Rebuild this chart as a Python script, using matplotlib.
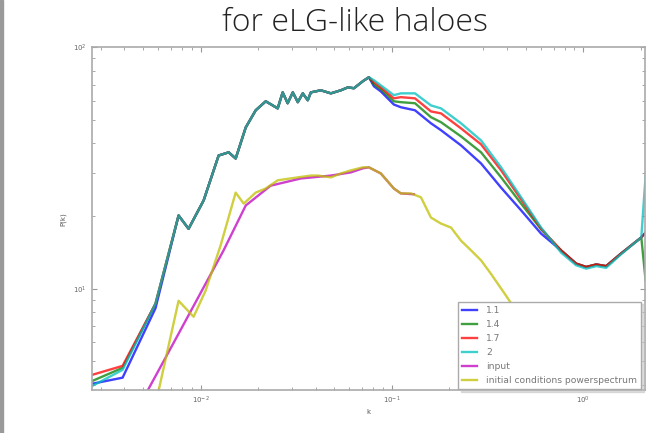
import matplotlib
matplotlib.use("Agg")
import matplotlib.pyplot as plt
from matplotlib.patches import Rectangle

# shared k grid for the four halo runs
k_sim = [0.00272, 0.00391, 0.00581, 0.00767, 0.00865, 0.01037, 0.01242, 0.01402,
         0.01525, 0.01721, 0.01941, 0.02190, 0.02529, 0.02685, 0.02851, 0.03033,
         0.03221, 0.03420, 0.03631, 0.03770, 0.04249, 0.04797, 0.05408, 0.05890,
         0.06330, 0.07050, 0.07580,
         0.0805, 0.0875, 0.1023, 0.1114, 0.1320, 0.1600, 0.1806, 0.2298, 0.2924,
         0.3722, 0.4736, 0.6025, 0.7666, 0.9185, 1.037, 1.170, 1.318, 1.580,
         2.012, 2.12]

common = [8.67, 20.1, 17.7, 23.2, 35.6, 36.7, 34.6, 46.5, 54.8, 59.7, 55.8, 65.0,
          58.6, 65.0, 59.2, 64.4, 60.3, 65.0, 66.3, 64.4, 66.3, 68.2, 67.6, 72.3,
          75.1]
tail = [14.4, 12.7, 12.3, 12.6, 12.4, 14.0, 16.3]

P_11 = [4.04, 4.28, 8.3] + common[1:] + [68.9, 65.6, 57.9, 56.4, 54.8, 48.4, 45.3,
        39.2, 33.0, 26.2, 21.1, 16.9] + tail + [17.1]
P_14 = [4.15, 4.70] + common + [70.2, 67.0, 59.7, 59.2, 58.6, 51.3, 48.9, 42.7,
        36.7, 28.9, 22.5, 17.6] + tail + [10.8]
P_17 = [4.40, 4.79] + common + [71.6, 68.2, 61.4, 62.1, 61.4, 54.2, 53.2, 46.1,
        39.6, 30.9, 23.4, 17.7] + tail + [17.1]
P_2 = [3.96, 4.61] + common + [73.0, 69.5, 63.3, 64.4, 64.4, 57.4, 55.8, 48.4,
       41.1, 31.8, 23.9, 17.9] + [14.1, 12.5, 12.1, 12.4, 12.2, 13.9, 16.3] + [29.4]

# linear input spectrum
k_in = [0.0045, 0.00528, 0.0075, 0.0100, 0.01318, 0.01721, 0.02323, 0.03342,
        0.04797, 0.06096, 0.0705, 0.0758, 0.0875, 0.1023, 0.1114, 0.1303]
P_in = [3.0, 3.78, 6.3, 9.6, 14.4, 22.1, 26.7, 28.6, 29.4, 30.3, 31.5, 31.8,
        30.0, 26.0, 24.8, 24.6]

# initial conditions power spectrum
k_ic = [0.00603, 0.00767, 0.00919, 0.01062, 0.01272, 0.01525, 0.01680, 0.01941,
        0.02190, 0.02529, 0.03221, 0.03770, 0.04100, 0.04800, 0.05410, 0.06100,
        0.07050, 0.07580, 0.08750, 0.1023, 0.1114, 0.1257, 0.1418, 0.1600,
        0.1806, 0.2037, 0.2298, 0.2593, 0.2924, 0.3299, 0.3951, 0.8453, 0.98]
P_ic = [3.78, 8.91, 7.65, 9.82, 15.1, 25.0, 22.5, 25.0, 26.0, 28.1, 28.9, 29.4,
        29.4, 28.9, 30.0, 30.9, 31.8, 31.8, 30.0, 26.0, 24.8, 24.8, 23.9, 19.7,
        18.6, 17.9, 15.8, 14.4, 13.1, 11.5, 9.35, 3.78, 3.2]

fig = plt.figure(figsize=(6.56, 4.33), dpi=100)
fig.patches.append(Rectangle((0, 0), 0.005, 1, transform=fig.transFigure,
                             color="#9a9a9a", zorder=0))
fig.text(0.541, 0.947, "for eLG-like haloes", ha="center", va="center",
         fontsize=23, family="Open Sans", fontweight="light", color="#222222")

ax = fig.add_axes([0.140, 0.099, 0.843, 0.792])
a = 0.75
lw = 1.7
ax.loglog(k_sim, P_11, color="b", lw=lw, alpha=a, label="1.1")
ax.loglog(k_sim, P_14, color="g", lw=lw, alpha=a, label="1.4")
ax.loglog(k_sim, P_17, color="r", lw=lw, alpha=a, label="1.7")
ax.loglog(k_sim, P_2, color="c", lw=lw, alpha=a, label="2")
ax.loglog(k_in, P_in, color="m", lw=lw, alpha=a, label="input")
ax.loglog(k_ic, P_ic, color="y", lw=lw, alpha=a, label="initial conditions powerspectrum")

ax.set_xlim(0.0027, 2.1)
ax.set_ylim(3.8, 100)
ax.set_xlabel("k", fontsize=5, color="#555555", labelpad=2)
ax.set_ylabel("P(k)", fontsize=5, color="#555555", labelpad=5)
ax.tick_params(which="both", direction="in", labelsize=5, colors="#999999",
               labelcolor="#666666", top=True, right=True)
for s in ax.spines.values():
    s.set_color("#aaaaaa")
    s.set_linewidth(1.2)

leg = ax.legend(loc="lower right", prop={"size": 6.6}, shadow={"color": "0.75"},
                fancybox=False, framealpha=1, handlelength=1.6, handletextpad=1.0,
                borderpad=0.45, labelspacing=0.55, borderaxespad=0.0,
                bbox_to_anchor=(0.993, 0.003))
leg.get_frame().set_edgecolor("#aaaaaa")
for t in leg.get_texts():
    t.set_color("#777777")

fig.savefig("out.png", dpi=100)
